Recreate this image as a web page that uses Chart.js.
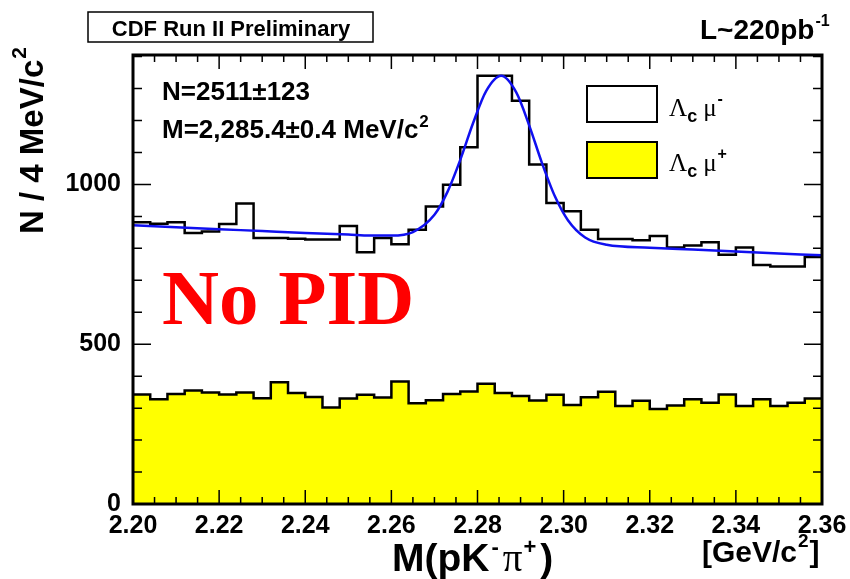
<!DOCTYPE html>
<html>
<head>
<meta charset="utf-8">
<script src="https://cdn.jsdelivr.net/npm/chart.js@4.4.1/dist/chart.umd.min.js"></script>
<style>
  html, body { margin: 0; padding: 0; background: #fff; }
  #wrap { width: 850px; height: 579px; }
</style>
</head>
<body>
<div id="wrap"><canvas id="massChart" width="850" height="579"></canvas></div>
<script>
// 40 bins of 4 MeV from 2.20 to 2.36 GeV/c^2
const massLow = 2.20;
const massHigh = 2.36;
const binWidth = 0.004;

// Lambda_c mu- entries per bin
const lcMuMinus = [882, 877, 882, 848, 853, 876, 940, 832, 832, 830,
                   828, 828, 870, 788, 832, 813, 858, 931, 999, 1116,
                   1340, 1340, 1262, 1062, 942, 916, 858, 829, 829, 825,
                   839, 803, 809, 819, 780, 803, 748, 743, 743, 773];

// Lambda_c mu+ entries per bin
const lcMuPlus = [343, 328, 344, 355, 349, 343, 349, 331, 381, 347,
                  335, 302, 330, 342, 333, 383, 315, 325, 344, 352,
                  376, 347, 338, 324, 342, 310, 334, 351, 307, 323,
                  297, 308, 328, 317, 343, 307, 328, 307, 317, 330];

// fit curve (gaussian on linear background)
const fitMass = [2.200, 2.210, 2.220, 2.230, 2.240, 2.250, 2.255, 2.260, 2.265, 2.270,
                 2.273, 2.276, 2.279, 2.282, 2.2855, 2.289, 2.292, 2.295, 2.298, 2.301,
                 2.305, 2.310, 2.320, 2.330, 2.340, 2.350, 2.360];
const fitCounts = [872, 866, 860, 854, 848, 843, 840, 840, 851, 905,
                   976, 1077, 1193, 1292, 1340, 1288, 1185, 1066, 962, 888,
                   834, 811, 802, 796, 790, 784, 778];

const xTickValues = [2.20, 2.22, 2.24, 2.26, 2.28, 2.30, 2.32, 2.34, 2.36];
const xTickLabels = ['2.20', '2.22', '2.24', '2.26', '2.28', '2.30', '2.32', '2.34', '2.36'];
const yTickValues = [0, 500, 1000];
const yTickLabels = ['0', '500', '1000'];

const SANS = '"Liberation Sans", Arial, sans-serif';
const SERIF = '"Liberation Serif", "Times New Roman", serif';

function histPoints(values) {
    const pts = values.map((v, i) => ({ x: massLow + i * binWidth, y: v }));
    pts.push({ x: massHigh, y: values[values.length - 1] });
    return pts;
}

// draws a run of text pieces side by side, each with its own font / offset
function drawRich(ctx, x, y, parts) {
    parts.forEach(p => {
        ctx.font = p.font;
        x += (p.dx || 0);
        ctx.fillText(p.t, x, y + (p.dy || 0));
        x += ctx.measureText(p.t).width;
    });
    return x;
}

const rootStyle = {
    id: 'rootStyle',
    afterDatasetsDraw(chart) {
        const ctx = chart.ctx;
        const a = chart.chartArea;
        const xs = chart.scales.x;
        const ys = chart.scales.y;
        ctx.save();
        ctx.strokeStyle = '#000';
        ctx.lineWidth = 1.5;
        ctx.beginPath();
        // x ticks, inward at bottom and top
        for (let i = 0; i <= 32; i++) {
            const px = xs.getPixelForValue(massLow + i * 0.005);
            const major = i % 4 === 0;
            ctx.moveTo(px, a.bottom);
            ctx.lineTo(px, a.bottom - (major ? 14 : 7));
            ctx.moveTo(px, a.top);
            ctx.lineTo(px, a.top + (major ? 14 : 7));
        }
        // y ticks, inward at left and right
        for (let v = 0; v <= 1400; v += 100) {
            const py = ys.getPixelForValue(v);
            const major = v % 500 === 0;
            ctx.moveTo(a.left, py);
            ctx.lineTo(a.left + (major ? 18 : 9), py);
            ctx.moveTo(a.right, py);
            ctx.lineTo(a.right - (major ? 18 : 9), py);
        }
        ctx.stroke();
        // frame
        ctx.lineWidth = 3;
        ctx.strokeRect(a.left, a.top, a.right - a.left, a.bottom - a.top);

        // fit results
        ctx.fillStyle = '#000';
        ctx.textBaseline = 'alphabetic';
        const fb = 'bold 26px ' + SANS;
        drawRich(ctx, 162, 100, [{ t: 'N=2511\u00b1123', font: fb }]);
        drawRich(ctx, 162, 138, [
            { t: 'M=2,285.4\u00b10.4 MeV/c', font: fb },
            { t: '2', font: 'bold 17px ' + SANS, dy: -11, dx: 1 }
        ]);

        // legend
        ctx.lineWidth = 2;
        ctx.fillStyle = '#fff';
        ctx.fillRect(587, 86, 70, 36);
        ctx.strokeRect(587, 86, 70, 36);
        ctx.fillStyle = '#ffff00';
        ctx.fillRect(587, 142, 70, 36);
        ctx.strokeRect(587, 142, 70, 36);
        ctx.fillStyle = '#000';
        const legend = [['-', 116], ['+', 171]];
        legend.forEach(([sign, base]) => {
            drawRich(ctx, 669, base, [
                { t: '\u039b', font: '25px ' + SERIF },
                { t: 'c', font: 'bold 18px ' + SANS, dy: 6 },
                { t: '\u03bc', font: '25px ' + SERIF, dx: 6 },
                { t: sign, font: 'bold 16px ' + SANS, dy: -12, dx: 1 }
            ]);
        });

        // big label
        ctx.fillStyle = '#ff0000';
        ctx.font = 'bold 79px ' + SERIF;
        ctx.fillText('No PID', 162, 324);

        // header
        ctx.fillStyle = '#000';
        ctx.lineWidth = 1.5;
        ctx.strokeRect(88, 12, 285, 30);
        ctx.font = 'bold 22px ' + SANS;
        ctx.textAlign = 'center';
        ctx.fillText('CDF Run II Preliminary', 231, 36);
        ctx.textAlign = 'left';
        drawRich(ctx, 700, 39, [
            { t: 'L~220pb', font: 'bold 28px ' + SANS },
            { t: '-1', font: 'bold 16px ' + SANS, dy: -13, dx: 1 }
        ]);

        // x axis title
        drawRich(ctx, 392, 571, [
            { t: 'M(pK', font: 'bold 39px ' + SANS },
            { t: '-', font: 'bold 22px ' + SANS, dy: -17, dx: 2 },
            { t: '\u03c0', font: '39px ' + SERIF, dx: 4 },
            { t: '+', font: 'bold 22px ' + SANS, dy: -17, dx: 1 },
            { t: ')', font: 'bold 39px ' + SANS, dx: 4 }
        ]);
        drawRich(ctx, 702, 562, [
            { t: '[GeV/c', font: 'bold 30px ' + SANS },
            { t: '2', font: 'bold 19px ' + SANS, dy: -15, dx: 1 },
            { t: ']', font: 'bold 30px ' + SANS, dx: 1 }
        ]);

        // y axis title
        ctx.translate(43, 234);
        ctx.rotate(-Math.PI / 2);
        drawRich(ctx, 0, 0, [
            { t: 'N / 4 MeV/c', font: 'bold 33px ' + SANS },
            { t: '2', font: 'bold 21px ' + SANS, dy: -17, dx: 1 }
        ]);
        ctx.restore();
    }
};

const ctx = document.getElementById('massChart').getContext('2d');
new Chart(ctx, {
    type: 'line',
    data: {
        datasets: [
            {
                label: 'fit',
                data: fitMass.map((m, i) => ({ x: m, y: fitCounts[i] })),
                borderColor: '#1010f0',
                borderWidth: 2.5,
                pointRadius: 0,
                cubicInterpolationMode: 'monotone',
                fill: false,
                order: 0
            },
            {
                label: '\u039bc \u03bc-',
                data: histPoints(lcMuMinus),
                borderColor: '#000',
                borderWidth: 2.5,
                pointRadius: 0,
                stepped: true,
                fill: false,
                order: 1
            },
            {
                label: '\u039bc \u03bc+',
                data: histPoints(lcMuPlus),
                borderColor: '#000',
                backgroundColor: '#ffff00',
                borderWidth: 2.5,
                pointRadius: 0,
                stepped: true,
                fill: 'origin',
                order: 2
            }
        ]
    },
    options: {
        responsive: false,
        animation: false,
        devicePixelRatio: 1,
        layout: { padding: { top: 55, right: 28, left: 0, bottom: 0 } },
        plugins: {
            legend: { display: false },
            tooltip: { enabled: false }
        },
        scales: {
            x: {
                type: 'linear',
                min: massLow,
                max: massHigh,
                afterFit: s => { s.height = 75; s.paddingLeft = 0; s.paddingRight = 0; },
                afterBuildTicks: s => { s.ticks = xTickValues.map(v => ({ value: v })); },
                grid: { display: false, drawTicks: false },
                border: { display: false },
                ticks: {
                    autoSkip: false,
                    maxRotation: 0,
                    padding: 7,
                    color: '#000',
                    font: { family: SANS, size: 25, weight: 'bold' },
                    callback: (v) => xTickLabels[xTickValues.findIndex(t => Math.abs(t - v) < 1e-6)]
                }
            },
            y: {
                type: 'linear',
                min: 0,
                max: 1405,
                afterFit: s => { s.width = 133; s.paddingTop = 0; s.paddingBottom = 0; },
                afterBuildTicks: s => { s.ticks = yTickValues.map(v => ({ value: v })); },
                grid: { display: false, drawTicks: false },
                border: { display: false },
                ticks: {
                    padding: 12,
                    color: '#000',
                    font: { family: SANS, size: 25, weight: 'bold' },
                    callback: (v) => yTickLabels[yTickValues.indexOf(v)]
                }
            }
        }
    },
    plugins: [rootStyle]
});
</script>
</body>
</html>
